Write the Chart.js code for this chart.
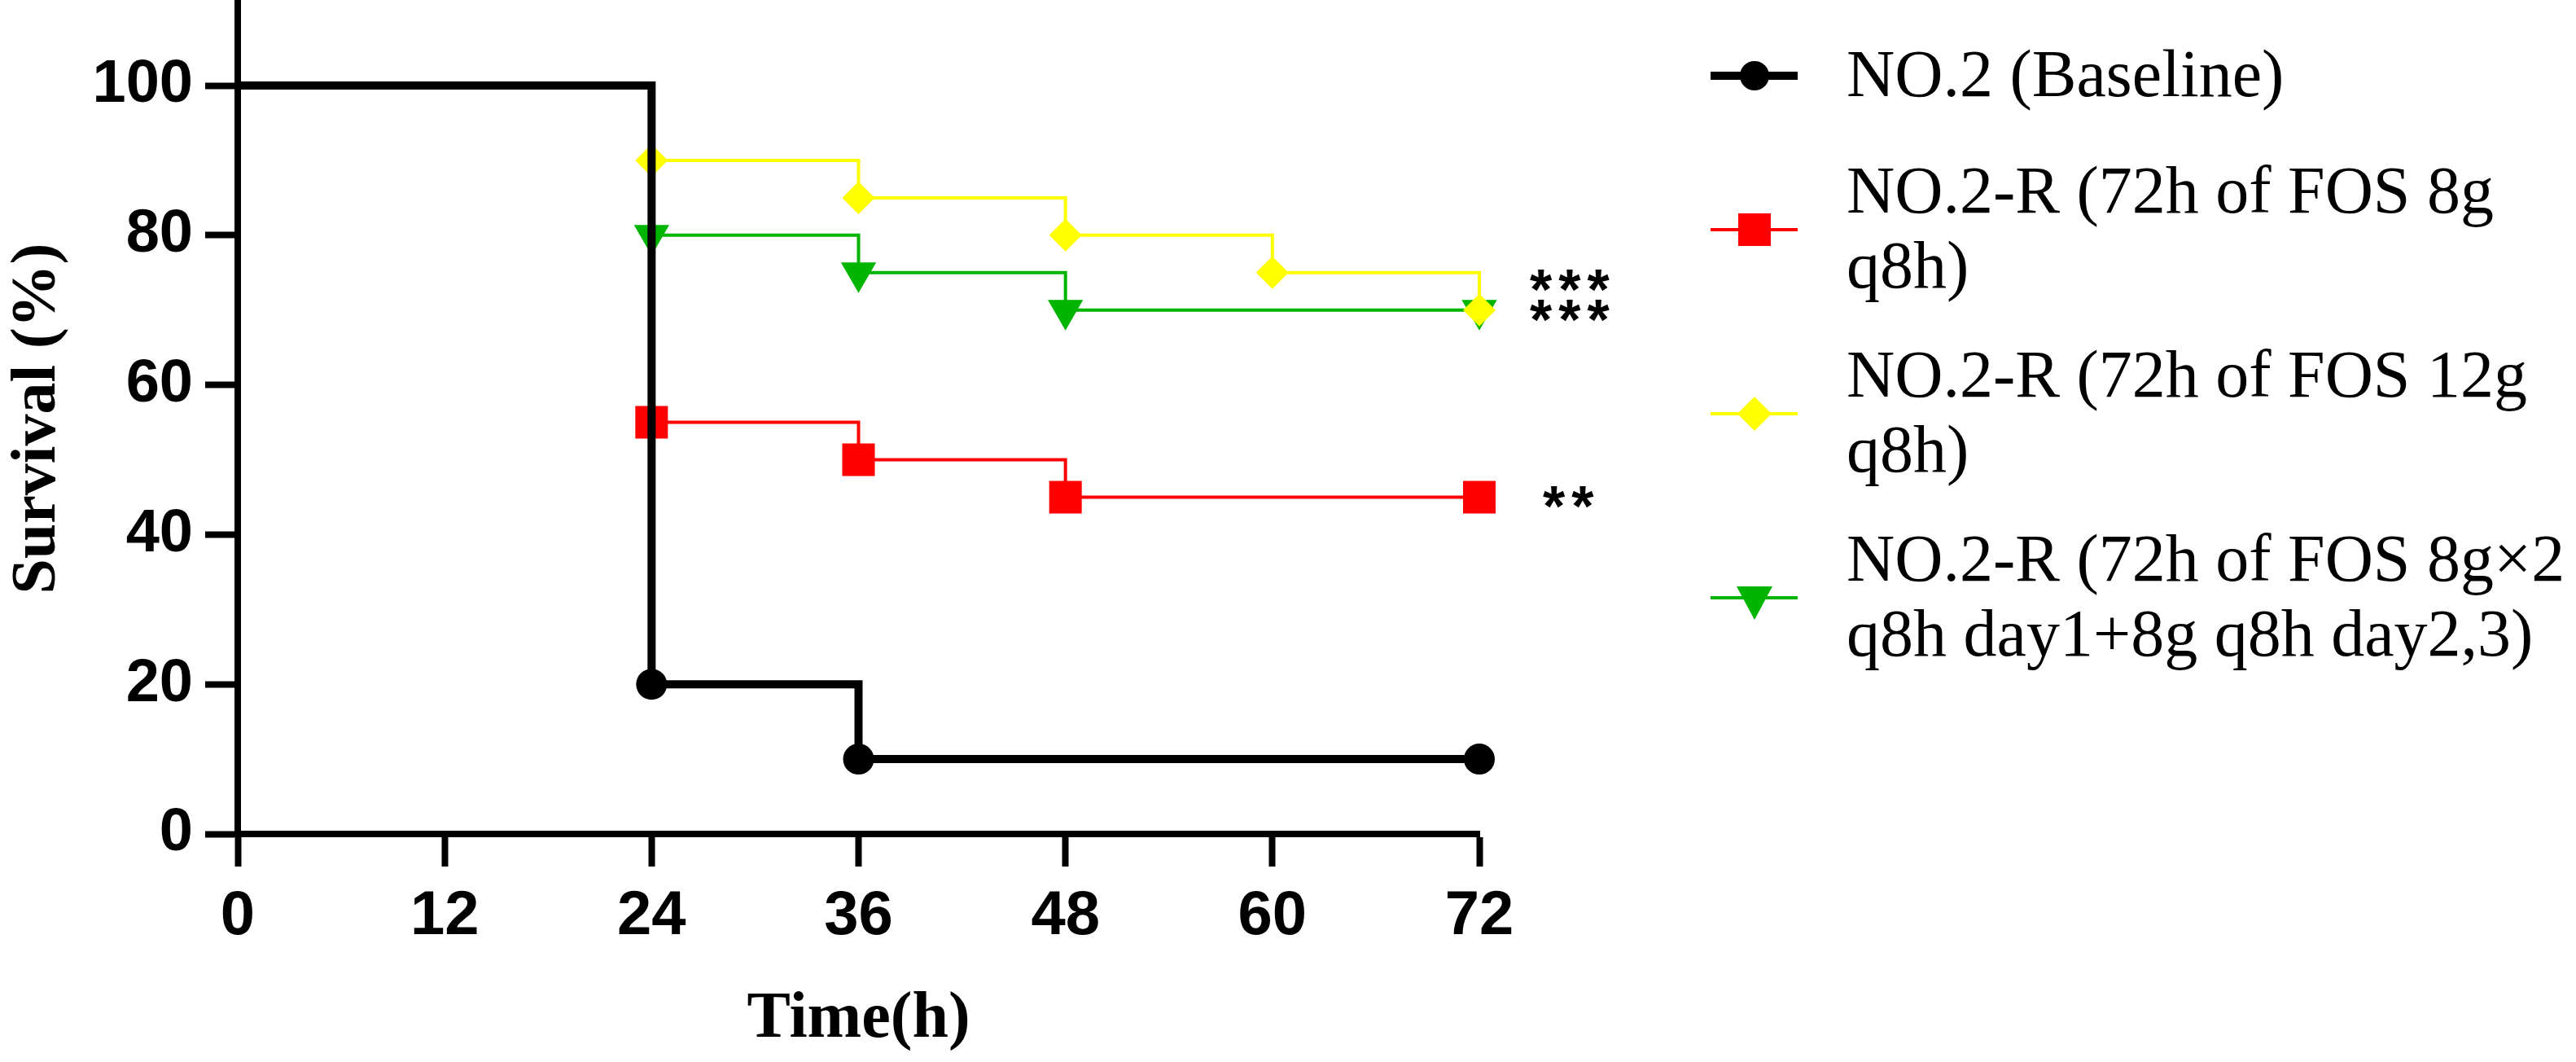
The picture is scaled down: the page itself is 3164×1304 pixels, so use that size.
<!DOCTYPE html>
<html>
<head>
<meta charset="utf-8">
<title>Survival</title>
<script src="https://cdn.jsdelivr.net/npm/chart.js@4.4.1/dist/chart.umd.min.js"></script>
<style>
  html, body { margin: 0; padding: 0; background: #fff; }
  #wrap { width: 3164px; height: 1304px; }
</style>
</head>
<body>
<div id="wrap"><canvas id="grafica" width="3164" height="1304"></canvas></div>
<script>
// Valores
const tiempoTicks = [0, 12, 24, 36, 48, 60, 72];
const supervivenciaTicks = [0, 20, 40, 60, 80, 100];

const nombresGrupos = [
  ["NO.2 (Baseline)"],
  ["NO.2-R (72h of FOS 8g", "q8h)"],
  ["NO.2-R (72h of FOS 12g", "q8h)"],
  ["NO.2-R (72h of FOS 8g\u00d72", "q8h day1+8g q8h day2,3)"]
];

const tiemposBase = [0, 24, 36, 72];
const valoresBase = [100, 20, 10, 10];
const tiempos8g = [0, 24, 36, 48, 72];
const valores8g = [100, 55, 50, 45, 45];
const tiempos12g = [0, 24, 36, 48, 60, 72];
const valores12g = [100, 90, 85, 80, 75, 70];
const tiemposDoble = [0, 24, 36, 48, 72];
const valoresDoble = [100, 80, 75, 70, 70];

// asteriscos de significancia junto al final de las curvas
const marcasSignif = ["***", "***", "**"];
const nivelSignif = [74, 70, 45];

const pares = (xs, ys) => xs.map((x, i) => ({ x: x, y: ys[i] }));

// estilo de cada grupo (negro, rojo, amarillo, verde)
const estilos = [
  { color: "#000000", ancho: 10, forma: "circle", radio: 19, rot: 0 },
  { color: "#ff0000", ancho: 4, forma: "rect", radio: 28.3, rot: 0 },
  { color: "#ffff00", ancho: 4, forma: "rectRot", radio: 20, rot: 0 },
  { color: "#00b400", ancho: 4, forma: "triangle", radio: 25, rot: 180 }
];

const series = [
  pares(tiemposBase, valoresBase),
  pares(tiempos8g, valores8g),
  pares(tiempos12g, valores12g),
  pares(tiemposDoble, valoresDoble)
];

const datasets = series.map((d, i) => ({
  label: nombresGrupos[i].join(" "),
  data: d,
  borderColor: estilos[i].color,
  backgroundColor: estilos[i].color,
  borderWidth: estilos[i].ancho,
  stepped: "before",
  fill: false,
  clip: false,
  pointStyle: estilos[i].forma,
  pointRotation: estilos[i].rot,
  pointRadius: ctx => ctx.dataIndex === 0 ? 0 : estilos[i].radio,
  pointBorderWidth: 0,
  pointBackgroundColor: estilos[i].color
}));

// dibuja un marcador para la leyenda
function marcador(ctx, forma, x, y, color) {
  ctx.fillStyle = color;
  ctx.beginPath();
  if (forma === "circle") {
    ctx.arc(x, y, 18, 0, Math.PI * 2);
  } else if (forma === "rect") {
    ctx.rect(x - 20, y - 20, 40, 40);
  } else if (forma === "rectRot") {
    ctx.moveTo(x, y - 21); ctx.lineTo(x + 21, y); ctx.lineTo(x, y + 21); ctx.lineTo(x - 21, y);
  } else {
    ctx.moveTo(x - 22, y - 14); ctx.lineTo(x + 22, y - 14); ctx.lineTo(x, y + 27);
  }
  ctx.closePath();
  ctx.fill();
}

const pluginExtras = {
  id: "extras",
  afterDraw(chart) {
    const ctx = chart.ctx;
    const xs = chart.scales.x, ys = chart.scales.y;
    ctx.save();

    // asteriscos
    ctx.fillStyle = "#000";
    ctx.font = "bold 70px 'Liberation Sans'";
    ctx.textAlign = "left";
    ctx.textBaseline = "alphabetic";
    ctx.letterSpacing = "8px";
    marcasSignif.forEach((m, i) => {
      const px = xs.getPixelForValue(72) + (m.length === 2 ? 78 : 62);
      ctx.fillText(m, px, ys.getPixelForValue(nivelSignif[i]) + 36);
    });
    ctx.letterSpacing = "0px";

    // leyenda
    const lineaY = [91, 234, 460, 686];
    const salto = 92;
    ctx.font = "82px 'Liberation Serif'";
    nombresGrupos.forEach((lineas, i) => {
      const y0 = lineaY[i];
      const centro = y0 + (lineas.length - 1) * salto / 2 + 2;
      ctx.strokeStyle = estilos[i].color;
      ctx.lineWidth = estilos[i].ancho;
      ctx.beginPath();
      ctx.moveTo(2101, centro);
      ctx.lineTo(2208, centro);
      ctx.stroke();
      marcador(ctx, estilos[i].forma, 2155, centro, estilos[i].color);
      ctx.fillStyle = "#000";
      lineas.forEach((t, k) => ctx.fillText(t, 2268, y0 + k * salto + 27));
    });
    ctx.restore();
  }
};

const ejeComun = {
  grid: { display: true, drawOnChartArea: false, drawTicks: true, tickLength: 40, tickWidth: 8, tickColor: "#000" },
  border: { display: true, width: 8, color: "#000" }
};

new Chart(document.getElementById("grafica"), {
  type: "line",
  data: { datasets: datasets },
  options: {
    responsive: false,
    animation: false,
    devicePixelRatio: 1,
    events: [],
    layout: { autoPadding: false, padding: { left: 0, top: 4, right: 1347, bottom: 0 } },
    plugins: { legend: { display: false }, tooltip: { enabled: false } },
    scales: {
      x: {
        type: "linear", min: 0, max: 72,
        afterBuildTicks: s => { s.ticks = tiempoTicks.map(v => ({ value: v })); },
        afterFit: s => { s.height = 280; s.paddingLeft = 0; s.paddingRight = 0; },
        grid: ejeComun.grid, border: ejeComun.border,
        ticks: { color: "#000", font: { family: "Liberation Sans", size: 76, weight: "bold" }, padding: 16, maxRotation: 0, autoSkip: false },
        title: { display: true, text: "Time(h)", color: "#000", font: { family: "Liberation Serif", size: 80, weight: "bold" }, padding: { top: 0, bottom: 4 } }
      },
      y: {
        type: "linear", min: 0, max: 111,
        afterBuildTicks: s => { s.ticks = supervivenciaTicks.map(v => ({ value: v })); },
        afterFit: s => { s.width = 292; s.paddingTop = 0; s.paddingBottom = 0; },
        grid: ejeComun.grid, border: ejeComun.border,
        ticks: { color: "#000", font: { family: "Liberation Sans", size: 74, weight: "bold" }, padding: 15 },
        title: { display: true, text: "Survival (%)", color: "#000", font: { family: "Liberation Serif", size: 78, weight: "bold" }, padding: { top: 0, bottom: 0 } }
      }
    }
  },
  plugins: [pluginExtras]
});
</script>
</body>
</html>
